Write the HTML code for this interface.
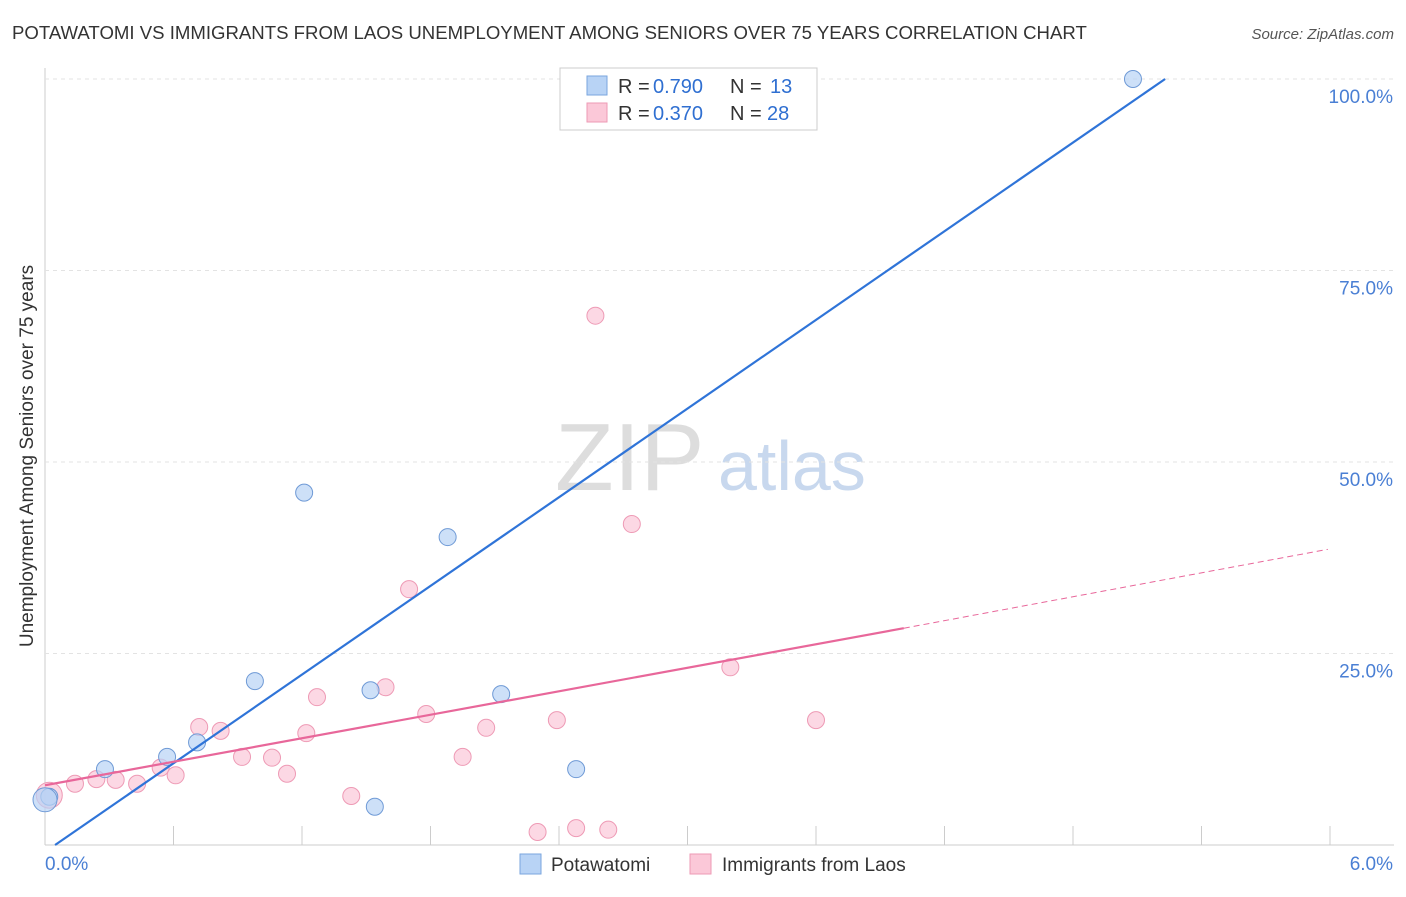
<!DOCTYPE html>
<html><head><meta charset="utf-8"><style>
body{margin:0;background:#fff;font-family:"Liberation Sans",sans-serif;}
svg text{font-family:"Liberation Sans",sans-serif;}
</style></head><body>
<svg id="c" width="1406" height="892">
<text x="12" y="39" font-size="18.6" fill="#333">POTAWATOMI VS IMMIGRANTS FROM LAOS UNEMPLOYMENT AMONG SENIORS OVER 75 YEARS CORRELATION CHART</text>
<text x="1394" y="39" font-size="15" fill="#555" font-style="italic" text-anchor="end">Source: ZipAtlas.com</text>
<text x="33" y="456" font-size="19" fill="#333" text-anchor="middle" transform="rotate(-90 33 456)">Unemployment Among Seniors over 75 years</text>
<text x="555" y="490" font-size="96" fill="#ddd" font-family="Liberation Serif">ZIP</text>
<text x="718" y="490" font-size="70" fill="#c8d8ee">atlas</text>
<g id="grid"></g><g id="marks"></g>
<g>
<rect x="560" y="68" width="257" height="62" fill="#fff" stroke="#ccc"/>
<rect x="587" y="76" width="20" height="19" fill="#b8d3f5" stroke="#7aa6de"/>
<rect x="587" y="103" width="20" height="19" fill="#fbc8d8" stroke="#ee9ab5"/>
<text x="618" y="93" font-size="20" fill="#333">R =</text>
<text x="653" y="93" font-size="20" fill="#2f6fd1">0.790</text>
<text x="730" y="93" font-size="20" fill="#333">N =</text>
<text x="770" y="93" font-size="20" fill="#2f6fd1">13</text>
<text x="618" y="120" font-size="20" fill="#333">R =</text>
<text x="653" y="120" font-size="20" fill="#2f6fd1">0.370</text>
<text x="730" y="120" font-size="20" fill="#333">N =</text>
<text x="767" y="120" font-size="20" fill="#2f6fd1">28</text>
</g>
<g>
<rect x="520" y="854" width="21" height="20" fill="#b8d3f5" stroke="#7aa6de"/>
<text x="551" y="871" font-size="19" fill="#333">Potawatomi</text>
<rect x="690" y="854" width="21" height="20" fill="#fbc8d8" stroke="#ee9ab5"/>
<text x="722" y="871" font-size="19" fill="#333">Immigrants from Laos</text>
</g>
</svg>
<script>
const blueX=[0.02,0.28,0.57,0.71,0.98,1.21,1.52,1.54,1.88,2.13,2.48,5.08,0.0];
const blueY=[6.3,9.9,11.5,13.4,21.4,46.0,20.2,5.0,40.2,19.7,9.9,100,5.9];
const pinkX=[0.02,0.14,0.24,0.33,0.43,0.54,0.61,0.72,0.82,0.92,1.06,1.13,1.22,1.27,1.43,1.59,1.70,1.78,1.95,2.06,2.30,2.39,2.48,2.57,2.63,2.74,3.20,3.60];
const pinkY=[6.5,8.0,8.6,8.5,8.0,10.1,9.1,15.4,14.9,11.5,11.4,9.3,14.6,19.3,6.4,20.6,33.4,17.1,11.5,15.3,1.7,16.3,2.2,69.1,2.0,41.9,23.2,16.3];
const blueLine=[[0.047,0],[5.23,100]];
const pinkLine=[[0,7.8],[4.01,28.3]];
const pinkDash=[[4.01,28.3],[5.99,38.6]];
const yTicks=[25,50,75,100];
const yLabels=["25.0%","50.0%","75.0%","100.0%"];
const xTicks=[0,0.6,1.2,1.8,2.4,3.0,3.6,4.2,4.8,5.4,6.0];
const sx=v=>45+v/6*1285, sy=v=>845-v/100*766;
const NS="http://www.w3.org/2000/svg";
function mk(p,t,a){const e=document.createElementNS(NS,t);for(const k in a)e.setAttribute(k,a[k]);p.appendChild(e);return e;}
const g=document.getElementById('grid'), m=document.getElementById('marks');
let ax=mk(g,'line',{x1:45,y1:68,x2:45,y2:845,stroke:'#ccc'});


let bx=mk(g,'line',{x1:45,y1:845,x2:1394,y2:845,stroke:'#ccc'});


yTicks.forEach((v,i)=>{
 const l=mk(g,'line',{x1:45,x2:1394,y1:sy(v),y2:sy(v),stroke:'#e3e3e3','stroke-dasharray':'4,4'});
 
 
 const t=mk(g,'text',{x:1393,y:sy(v)+24,'font-size':19,fill:'#4a7fd4','text-anchor':'end'});t.textContent=yLabels[i];
 
 
});
xTicks.forEach(v=>{const l=mk(g,'line',{x1:sx(v),x2:sx(v),y1:826,y2:845,stroke:'#ccc'});
 
 });
[["0.0%",45,'start'],["6.0%",1393,'end']].forEach(a=>{const t=mk(g,'text',{x:a[1],y:870,'font-size':19,fill:'#4a7fd4','text-anchor':a[2]});t.textContent=a[0];
 
 });
pinkX.forEach((x,i)=>{const c=mk(m,'circle',{cx:sx(x),cy:sy(pinkY[i]),r:i==0?13:8.5,fill:'#fbc8d8','fill-opacity':0.7,stroke:'#ee9ab5'});
 
 });
blueX.forEach((x,i)=>{const c=mk(m,'circle',{cx:sx(x),cy:sy(blueY[i]),r:i==12?12:8.5,fill:'#b8d3f5','fill-opacity':0.7,stroke:'#6f9ad6'});
 
 });
let l1=mk(m,'line',{x1:sx(blueLine[0][0]),y1:sy(blueLine[0][1]),x2:sx(blueLine[1][0]),y2:sy(blueLine[1][1]),stroke:'#2f74d8','stroke-width':2.2});


let l2=mk(m,'line',{x1:sx(pinkLine[0][0]),y1:sy(pinkLine[0][1]),x2:sx(pinkLine[1][0]),y2:sy(pinkLine[1][1]),stroke:'#e8679a','stroke-width':2.2});


let l3=mk(m,'line',{x1:sx(pinkDash[0][0]),y1:sy(pinkDash[0][1]),x2:sx(pinkDash[1][0]),y2:sy(pinkDash[1][1]),stroke:'#e8679a','stroke-width':1,'stroke-dasharray':'6,4'});


</script>
</body></html>
